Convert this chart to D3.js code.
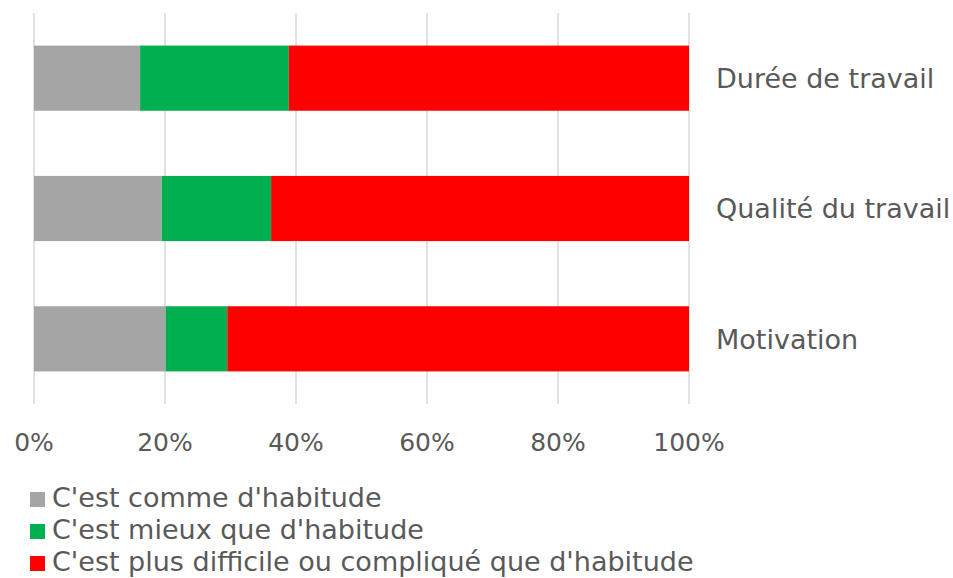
<!DOCTYPE html>
<html>
<head>
<meta charset="utf-8">
<script src="https://cdn.jsdelivr.net/npm/d3@7"></script>
<style>
  body { margin: 0; background: #fff; }
  text { font-family: 'Century Gothic', 'DejaVu Sans', sans-serif; fill: #595959; }
</style>
</head>
<body>
<div id="chart"></div>
<script>
'use strict';

var categories = ['Durée de travail', 'Qualité du travail', 'Motivation'];
var seriesNames = ["C'est comme d'habitude", "C'est mieux que d'habitude", "C'est plus difficile ou compliqué que d'habitude"];
var seriesColors = ['#a5a5a5', '#00b050', '#ff0000'];
var comme = [16.2, 19.5, 20.1];
var mieux = [22.7, 16.7, 9.4];
var difficile = [61.1, 63.8, 70.5];
var ticks = [0, 20, 40, 60, 80, 100];

var width = 953, height = 578;

var svg = d3.select('#chart')
            .append('svg')
            .attr('width', width)
            .attr('height', height);

var x = d3.scaleLinear().domain([0, 100]).range([34, 689]);
var y = d3.scaleBand().domain(categories).range([13, 404]).paddingInner(0.5).paddingOuter(0.25);

// gridlines
svg.append('g')
   .selectAll('line')
   .data(ticks)
   .enter()
   .append('line')
   .attr('x1', function(d) { return x(d); })
   .attr('x2', function(d) { return x(d); })
   .attr('y1', 13)
   .attr('y2', 404)
   .attr('stroke', '#d9d9d9')
   .attr('stroke-width', 1.5);

// stacked bars
var rows = categories.map(function(c, i) {
  return { cat: c, v0: comme[i], v1: mieux[i], v2: difficile[i] };
});
var stack = d3.stack().keys(['v0', 'v1', 'v2'])(rows);

svg.append('g')
   .selectAll('g')
   .data(stack)
   .enter()
   .append('g')
   .attr('fill', function(d, i) { return seriesColors[i]; })
   .selectAll('rect')
   .data(function(d) { return d; })
   .enter()
   .append('rect')
   .attr('x', function(d) { return x(d[0]); })
   .attr('width', function(d) { return x(d[1]) - x(d[0]); })
   .attr('y', function(d) { return y(d.data.cat); })
   .attr('height', y.bandwidth());

// category labels on the right
svg.append('g')
   .selectAll('text')
   .data(categories)
   .enter()
   .append('text')
   .attr('x', 716)
   .attr('y', function(d) { return y(d) + y.bandwidth() / 2; })
   .attr('dy', '0.36em')
   .style('font-size', '27px')
   .text(function(d) { return d; });

// x axis labels
svg.append('g')
   .selectAll('text')
   .data(ticks)
   .enter()
   .append('text')
   .attr('x', function(d) { return x(d); })
   .attr('y', 451)
   .attr('text-anchor', 'middle')
   .style('font-size', '25px')
   .text(function(d) { return d + '%'; });

// legend
var legend = svg.append('g')
                .selectAll('g')
                .data(seriesNames)
                .enter()
                .append('g')
                .attr('transform', function(d, i) { return 'translate(30,' + (507 + i * 32) + ')'; });

legend.append('rect')
      .attr('x', 0)
      .attr('y', -15)
      .attr('width', 15)
      .attr('height', 15)
      .attr('fill', function(d, i) { return seriesColors[i]; });

legend.append('text')
      .attr('x', 22)
      .attr('y', 0)
      .style('font-size', '27px')
      .text(function(d) { return d; });
</script>
</body>
</html>
